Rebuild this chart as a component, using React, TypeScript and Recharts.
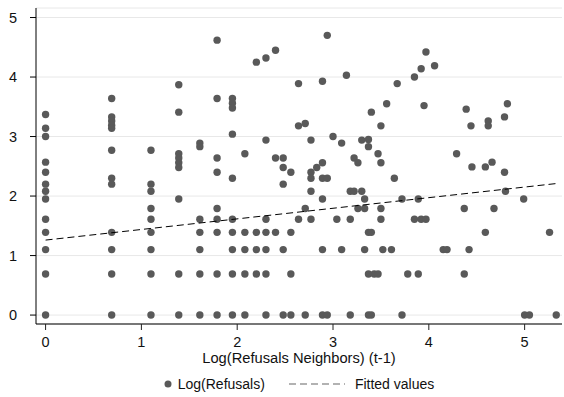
import React from 'react'
import { ScatterChart, Scatter, XAxis, YAxis, CartesianGrid } from 'recharts'

// x = Log(Refusals Neighbors) (t-1), one entry per column of dots
const neighborsLog = [
    0, 0.69, 1.10, 1.39, 1.61, 1.79, 1.95, 2.08, 2.20, 2.30, 2.40, 2.48, 2.56, 2.64, 2.71,
    2.77, 2.83, 2.89, 2.94, 3.00, 3.04, 3.09, 3.14, 3.18, 3.22, 3.26, 3.30, 3.33, 3.37, 3.40,
    3.43, 3.47, 3.50, 3.52, 3.56, 3.61, 3.64, 3.67, 3.72, 3.78, 3.85, 3.89, 3.92, 3.95, 3.97,
    4.06, 4.15, 4.19, 4.29, 4.37, 4.39, 4.42, 4.44, 4.45, 4.59, 4.62, 4.66, 4.68, 4.79, 4.80,
    4.82, 4.99, 5.00, 5.05, 5.26, 5.33,
]

// y = Log(Refusals) for each column above
const refusalsLog = [
    [3.37, 3.14, 3.00, 2.57, 2.40, 2.20, 2.08, 1.95, 1.61, 1.39, 1.10, 0.69, 0],
    [3.64, 3.33, 3.26, 3.19, 3.14, 2.77, 2.30, 2.20, 1.39, 1.10, 0.69, 0],
    [2.77, 2.20, 2.08, 1.79, 1.61, 1.39, 1.10, 0.69, 0],
    [3.87, 3.41, 2.71, 2.64, 2.56, 2.48, 1.95, 0.69, 0],
    [2.89, 2.83, 1.61, 1.39, 1.10, 0.69, 0],
    [4.62, 3.64, 2.64, 2.40, 1.79, 1.61, 1.39, 0.69, 0],
    [3.64, 3.56, 3.48, 3.04, 2.30, 1.61, 1.39, 1.10, 0.69, 0],
    [2.71, 1.39, 1.10, 0.69, 0],
    [4.25, 1.39, 1.10, 0.69],
    [4.32, 2.94, 1.61, 1.39, 1.10, 0.69, 0],
    [4.45, 2.64, 1.39],
    [2.64, 2.48, 2.20, 1.10, 0],
    [2.40, 1.39, 0.69, 0],
    [3.89, 3.18, 1.61],
    [3.22, 1.79, 0],
    [2.94, 2.40, 2.30, 2.08, 1.61],
    [2.48],
    [3.93, 2.56, 2.30, 1.95, 1.10, 0],
    [4.70, 2.30, 0],
    [3.00],
    [1.61],
    [2.89, 1.10],
    [4.03],
    [2.08, 1.61, 0],
    [2.64, 2.08],
    [2.56, 1.79],
    [2.94, 2.08],
    [1.95, 1.79, 1.10],
    [2.95, 2.83, 1.39, 0.69, 0],
    [3.41, 1.39, 0],
    [0.69],
    [2.71, 0.69],
    [3.18, 2.56, 1.79, 1.61],
    [1.10],
    [3.55],
    [1.10],
    [2.30],
    [3.89],
    [1.95, 0],
    [0.69],
    [4.00, 1.61],
    [1.95, 0.69],
    [4.14, 1.61],
    [3.52],
    [4.42, 1.61],
    [4.19],
    [1.10],
    [1.10],
    [2.71],
    [1.79, 0.69],
    [3.46],
    [1.10],
    [3.18],
    [2.49],
    [2.49, 1.39],
    [3.26, 3.18],
    [2.57],
    [1.79],
    [3.33, 2.40],
    [2.08],
    [3.55],
    [1.95],
    [0],
    [0],
    [1.39],
    [0],
]

// Fitted values (linear fit) at both ends
const fitX = [0, 5.33]
const fitY = [1.26, 2.21]

const xTicks = [0, 1, 2, 3, 4, 5]
const yTicks = [0, 1, 2, 3, 4, 5]

const points = neighborsLog.flatMap((x, i) => refusalsLog[i].map((y) => ({ x, y })))
const fitted = fitX.map((x, i) => ({ x, y: fitY[i] }))

const font = '"Liberation Sans", Arial, sans-serif'
const dotColor = '#595959'

const Dot = (props: any) => <circle cx={props.cx} cy={props.cy} r={3.7} fill={dotColor} />
const NoDot = () => <g />

export default function App() {
    return (
        <div style={{ position: 'absolute', left: 0, top: 0, width: 564, height: 397, background: '#fff', fontFamily: font }}>
            <ScatterChart width={564} height={397} margin={{ top: 8, right: 2, bottom: 33, left: 0 }} style={{ fontFamily: font }}>
                <CartesianGrid vertical={false} stroke="#e8e8e8" strokeWidth={1} />
                <XAxis
                    type="number"
                    dataKey="x"
                    domain={[-0.1, 5.39]}
                    ticks={xTicks}
                    allowDataOverflow
                    height={40}
                    tickSize={6}
                    tickMargin={7}
                    axisLine={{ stroke: '#777', strokeWidth: 2 }}
                    tickLine={{ stroke: '#222' }}
                    tick={{ fontSize: 14.5, fill: '#111', fontFamily: font }}
                    label={{ value: 'Log(Refusals Neighbors) (t-1)', position: 'insideBottom', offset: 1, fontSize: 14.7, fill: '#111', fontFamily: font }}
                />
                <YAxis
                    type="number"
                    dataKey="y"
                    domain={[-0.15, 5.16]}
                    ticks={yTicks}
                    allowDataOverflow
                    width={36}
                    tickSize={6}
                    tickMargin={13}
                    axisLine={{ stroke: '#000', strokeWidth: 1 }}
                    tickLine={{ stroke: '#000' }}
                    tick={{ fontSize: 14.5, fill: '#111', fontFamily: font }}
                />
                <Scatter data={points} shape={Dot} isAnimationActive={false} />
                <Scatter
                    data={fitted}
                    shape={NoDot}
                    line={{ stroke: '#000', strokeWidth: 1, strokeDasharray: '7 4' }}
                    isAnimationActive={false}
                />
            </ScatterChart>
            <div
                style={{
                    position: 'absolute', left: 36, width: 526, top: 376, display: 'flex',
                    justifyContent: 'center', alignItems: 'center', fontSize: 14, color: '#111',
                }}
            >
                <svg width={8} height={8} style={{ marginRight: 6 }}>
                    <circle cx={4} cy={4} r={3.5} fill={dotColor} />
                </svg>
                <span>Log(Refusals)</span>
                <svg width={56} height={8} style={{ marginLeft: 24, marginRight: 10 }}>
                    <line x1={0} y1={4} x2={56} y2={4} stroke="#666" strokeWidth={1.2} strokeDasharray="7 4" />
                </svg>
                <span>Fitted values</span>
            </div>
        </div>
    )
}
